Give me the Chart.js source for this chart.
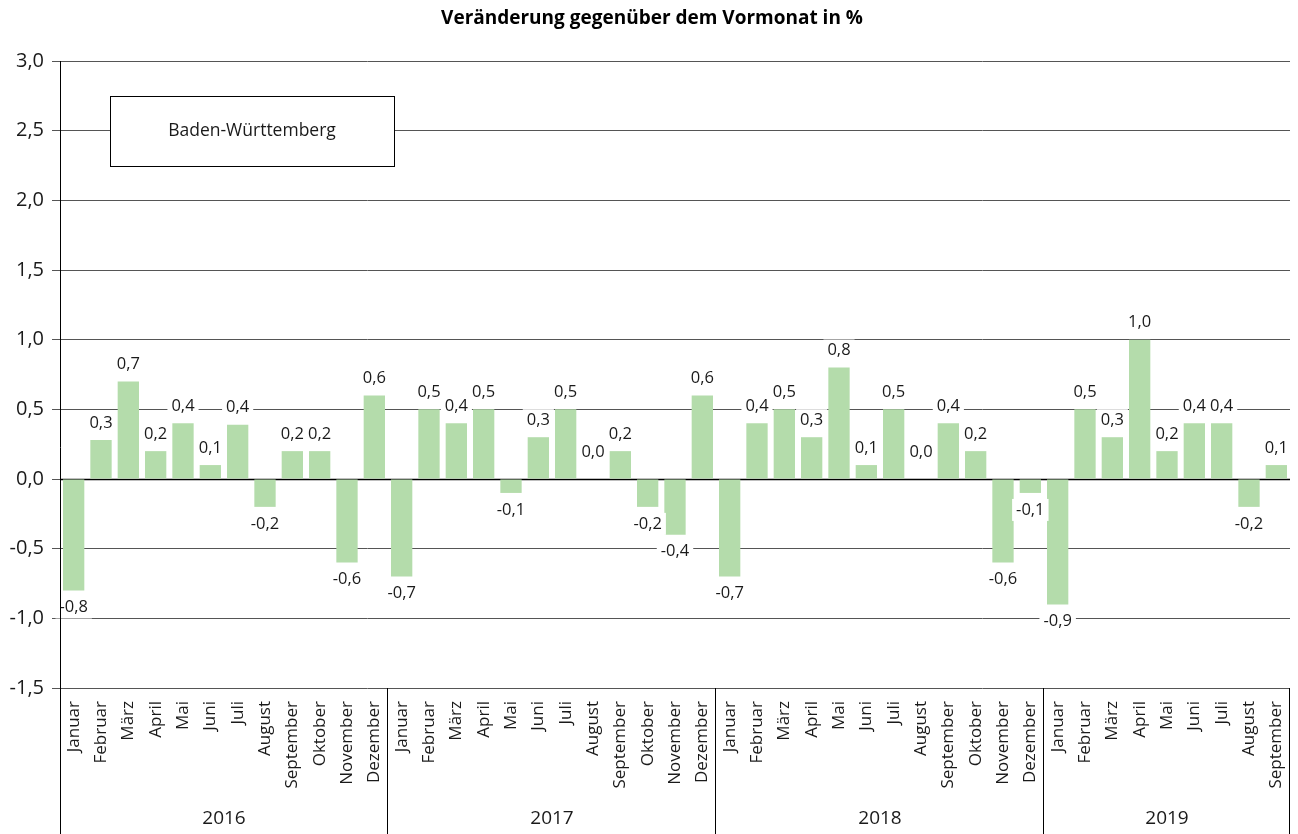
<!DOCTYPE html>
<html>
<head>
<meta charset="utf-8">
<script src="https://cdn.jsdelivr.net/npm/chart.js@4"></script>
<style>
  html, body { margin: 0; padding: 0; background: #fff; }
  #wrap { width: 1298px; height: 834px; }
</style>
</head>
<body>
<div id="wrap"><canvas id="chart" width="1298" height="834"></canvas></div>
<script>
const months = ["Januar", "Februar", "März", "April", "Mai", "Juni", "Juli", "August",
  "September", "Oktober", "November", "Dezember"];
const years = ["2016", "2017", "2018", "2019"];
const monthsPerYear = [12, 12, 12, 9];

const values2016 = [-0.8, 0.28, 0.7, 0.2, 0.4, 0.1, 0.39, -0.2, 0.2, 0.2, -0.6, 0.6];
const values2017 = [-0.7, 0.5, 0.4, 0.5, -0.1, 0.3, 0.5, 0.0, 0.2, -0.2, -0.4, 0.6];
const values2018 = [-0.7, 0.4, 0.5, 0.3, 0.8, 0.1, 0.5, 0.0, 0.4, 0.2, -0.6, -0.1];
const values2019 = [-0.9, 0.5, 0.3, 1.0, 0.2, 0.4, 0.4, -0.2, 0.1];

const yTicks = [-1.5, -1.0, -0.5, 0.0, 0.5, 1.0, 1.5, 2.0, 2.5, 3.0];

const titleText = "Veränderung gegenüber dem Vormonat in %";
const regionText = "Baden-Württemberg";

// build the flat series
const labels = [];
years.forEach((y, i) => {
  for (let m = 0; m < monthsPerYear[i]; m++) labels.push(months[m]);
});
const values = [].concat(values2016, values2017, values2018, values2019);

const FONT = "'Open Sans', 'Noto Sans', sans-serif";
const fmt = v => v.toFixed(1).replace(".", ",");

// title, region box, year groups
const decorPlugin = {
  id: "decor",
  beforeDatasetsDraw(chart) {
    const ctx = chart.ctx;
    const area = chart.chartArea;
    const y = chart.scales.y;
    ctx.save();
    // zero line
    ctx.strokeStyle = "#000";
    ctx.lineWidth = 1.5;
    const y0 = Math.round(y.getPixelForValue(0)) + 0.5;
    ctx.beginPath();
    ctx.moveTo(area.left, y0);
    ctx.lineTo(area.right, y0);
    ctx.stroke();
    // region box
    ctx.fillStyle = "#fff";
    ctx.fillRect(110, 96, 284, 70);
    ctx.strokeStyle = "#000";
    ctx.lineWidth = 1;
    ctx.strokeRect(110.5, 96.5, 284, 70);
    ctx.fillStyle = "#1a1a1a";
    ctx.font = "17.5px " + FONT;
    ctx.textAlign = "center";
    ctx.textBaseline = "middle";
    ctx.fillText(regionText, 252, 131);
    ctx.restore();
  },
  afterDraw(chart) {
    const ctx = chart.ctx;
    const area = chart.chartArea;
    const x = chart.scales.x;
    const half = (x.getPixelForValue(1) - x.getPixelForValue(0)) / 2;
    ctx.save();
    // title
    ctx.fillStyle = "#000";
    ctx.font = "bold 19px " + FONT;
    ctx.textAlign = "center";
    ctx.textBaseline = "middle";
    ctx.fillText(titleText, 652, 19);
    // year separators and labels
    ctx.strokeStyle = "#000";
    ctx.lineWidth = 1;
    ctx.font = "19px " + FONT;
    let start = 0;
    years.forEach((yr, i) => {
      const left = x.getPixelForValue(start) - half;
      const right = x.getPixelForValue(start + monthsPerYear[i] - 1) + half;
      const lx = Math.round(right) - 0.5;
      ctx.beginPath();
      ctx.moveTo(lx, area.bottom);
      ctx.lineTo(lx, chart.height);
      ctx.stroke();
      ctx.fillStyle = "#1a1a1a";
      ctx.fillText(yr, (left + right) / 2, 819);
      start += monthsPerYear[i];
    });
    // y axis line down to the bottom
    const ax = Math.round(area.left) + 0.5;
    ctx.beginPath();
    ctx.moveTo(ax, area.top);
    ctx.lineTo(ax, chart.height);
    ctx.stroke();
    ctx.restore();
  }
};

// value labels with white background
const valueLabelPlugin = {
  id: "valueLabels",
  afterDatasetsDraw(chart) {
    const ctx = chart.ctx;
    const meta = chart.getDatasetMeta(0);
    const y = chart.scales.y;
    ctx.save();
    ctx.font = "16.5px " + FONT;
    ctx.textAlign = "center";
    ctx.textBaseline = "middle";
    meta.data.forEach((bar, i) => {
      const v = values[i];
      const txt = fmt(v);
      let cy;
      if (v < 0) cy = y.getPixelForValue(v) + 17;
      else if (v === 0) cy = y.getPixelForValue(0) - 27;
      else cy = y.getPixelForValue(v) - 17;
      const w = ctx.measureText(txt).width + 8;
      ctx.fillStyle = "#fff";
      ctx.fillRect(bar.x - w / 2, cy - 11, w, 22);
      ctx.fillStyle = "#1a1a1a";
      ctx.fillText(txt, bar.x, cy);
    });
    ctx.restore();
  }
};

new Chart(document.getElementById("chart"), {
  type: "bar",
  data: {
    labels: labels,
    datasets: [{
      data: values,
      backgroundColor: "#b4dcab",
      borderWidth: 0,
      barPercentage: 0.78,
      categoryPercentage: 1.0
    }]
  },
  options: {
    responsive: false,
    animation: false,
    layout: { padding: { top: 61, right: 8, left: 0, bottom: 0 } },
    plugins: {
      legend: { display: false },
      tooltip: { enabled: false },
      title: { display: false }
    },
    scales: {
      x: {
        grid: { display: false, drawTicks: false },
        border: { display: false },
        ticks: {
          color: "#1a1a1a",
          font: { family: FONT, size: 17 },
          minRotation: 90,
          maxRotation: 90,
          autoSkip: false,
          padding: 13
        },
        afterFit(scale) {
          scale.height = 146;
          scale.paddingLeft = 0;
          scale.paddingRight = 0;
        }
      },
      y: {
        min: -1.5,
        max: 3.0,
        afterBuildTicks(scale) { scale.ticks = yTicks.map(v => ({ value: v })); },
        afterFit(scale) {
          scale.width = 60;
          scale.paddingTop = 0;
          scale.paddingBottom = 0;
        },
        grid: { color: "#555", lineWidth: 1, tickLength: 8 },
        border: { display: false },
        ticks: {
          color: "#1a1a1a",
          font: { family: FONT, size: 20 },
          padding: 8,
          callback: v => fmt(v)
        }
      }
    }
  },
  plugins: [decorPlugin, valueLabelPlugin]
});
</script>
</body>
</html>
